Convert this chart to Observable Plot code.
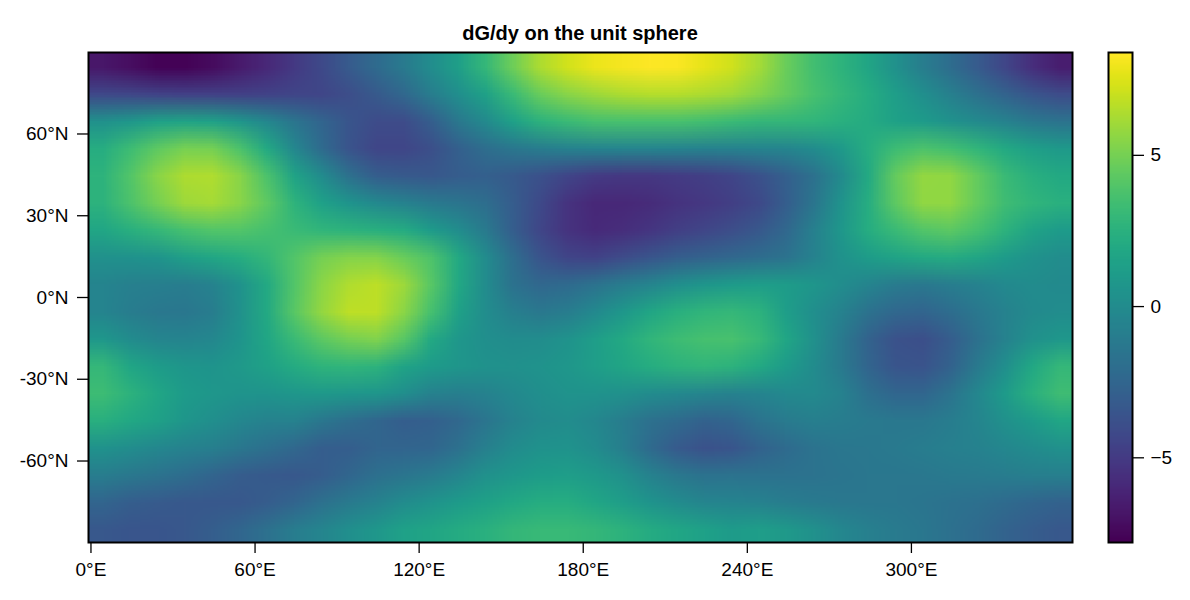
<!DOCTYPE html>
<html><head><meta charset="utf-8">
<script src="https://cdn.jsdelivr.net/npm/d3@7"></script>
<script src="https://cdn.jsdelivr.net/npm/@observablehq/plot@0.6"></script>
<style>
html,body{margin:0;padding:0;background:#fff;width:1190px;height:600px;overflow:hidden;position:relative}
#c svg{position:absolute;left:0;top:0;background:transparent}
#title{position:absolute;left:88px;width:984px;top:21.5px;text-align:center;font:bold 20px "Liberation Sans",sans-serif;color:#000}
</style></head><body>
<div id="title">dG/dy on the unit sphere</div>
<div id="c"></div>
<script>
const nLon = 36, nLat = 18;
const lat85  = [-6.8,-7.2,-7.7,-7.7,-7.3,-6.7,-6,-5.1,-4.2,-3.2,-2.2,-1.2,0.1,1.3,3,4.8,6.4,7.3,7.9,8.2,8.4,8.3,7.8,7.2,6.2,4.7,3.5,2.7,1.7,0.3,-1,-2.1,-3.2,-4.4,-5.7,-6.5];
const lat75  = [-4.3,-4.4,-4.6,-4.7,-4.7,-4.7,-4.6,-4.5,-4.4,-4,-3.3,-2.4,-1,0.2,1.5,3.2,4.7,5.5,6,6.4,6.6,6.6,6.4,6.1,5.4,4.6,3.7,3,2.2,1.2,0.2,-0.8,-1.8,-2.7,-3.5,-4.1];
const lat65  = [0.3,0.8,1.4,1.6,1.4,0.7,-0.3,-1.5,-2.6,-3.5,-4.1,-4.1,-3,-1.3,-0.1,1.4,2.6,3.2,3.6,3.7,3.7,3.7,3.5,3.2,2.9,2.9,2.8,2.5,2.1,1.5,1,0.4,-0.1,-0.7,-1.3,-1.6];
const lat55  = [2.3,3.3,4.4,5.1,5,3.8,2,-0.3,-2.2,-3.6,-4.4,-4.4,-3.9,-2.9,-2,-1.4,-1,-0.7,-0.5,-0.4,-0.4,-0.5,-0.6,-0.6,-0.5,-0.4,0,0.9,2.3,3.3,3.8,3.5,2.8,2,1.3,0.9];
const lat45  = [2.7,4,5.5,6.4,6.5,5.5,3.8,1.6,0,-1.8,-3,-3.3,-3.4,-3.1,-2.9,-3.3,-3.8,-4.5,-5,-5.2,-5.2,-5,-4.8,-4.5,-3.8,-2.9,-1.8,-0.1,2,4.6,5.8,5.7,4.5,3.2,2.4,2];
const lat35  = [2.6,3.8,5,6,6.2,5.5,4.4,2.7,1.4,0.6,-0.2,-0.6,-1.2,-1.5,-2,-3.1,-4.2,-5.4,-6,-6,-5.8,-5.4,-5.2,-4.8,-4.2,-3,-1.5,0.5,2.3,4.4,5.7,5.7,4.5,3.4,2.8,2.5];
const lat25  = [1.8,2.4,3,3.6,4,4,3.6,3.2,2.8,2.6,2.4,2.1,1,0.1,-1.2,-3,-4.4,-5.4,-5.9,-5.7,-5.3,-4.8,-4.4,-4,-3.4,-2.4,-0.8,0.8,2.2,3.2,4,4.3,3.6,2.6,1.6,1];
const lat15  = [0.3,0.4,0.6,1.3,1.8,2.2,2.9,4,5,5.4,5.4,4.7,3.9,2,0,-2,-3.6,-4.5,-4.6,-4.1,-3.5,-3,-2.7,-2.4,-2.1,-1.6,-0.7,0.4,1.1,1.6,2,2.1,1.7,1,0.4,0.1];
const lat5   = [-0.5,-0.8,-0.9,-1,-0.7,0.4,2,4,5.6,6.5,6.8,6,4.2,1.9,0,-1.7,-2.4,-2.2,-1.6,-1,-0.4,0.2,0.7,1,1.2,1.1,0.7,0.1,-0.5,-1.1,-1.3,-1,-0.6,-0.2,0,-0.1];
const latS5  = [-0.5,-1,-1.3,-1.4,-1,0.3,2,4.2,5.8,6.8,6.8,5.6,3.6,1.5,0.1,-0.9,-1.3,-1,-0.2,0.8,1.7,2.4,2.8,3,2.6,1.2,0.2,-0.7,-1.7,-2.4,-2.6,-2.1,-1.3,-0.6,-0.1,0.1];
const latS15 = [0.8,0,-0.4,-0.5,-0.3,0.6,1.8,3.2,4.3,5,5.3,4.2,2,0.8,0.2,0,0.1,0.5,1.2,2,2.8,3.3,3.6,3.7,3.1,1.8,0.3,-1.2,-2.7,-3.7,-3.9,-3.1,-1.8,-0.6,0.3,0.8];
const latS25 = [3,1.8,1.1,0.7,0.6,0.9,1.5,2.1,2.7,2.8,2.6,1.6,1,0.7,0.4,0.3,0.5,0.8,1.2,1.7,2.2,2.6,2.8,2.6,2,1,0,-1.2,-2.6,-3.5,-3.6,-2.8,-1.2,0.2,1.9,3];
const latS35 = [3.3,2.6,1.8,1,0.8,0.6,0.6,0.8,0.9,0.8,0.7,0.2,-0.6,-0.9,-0.7,-0.2,0.2,0.5,0.5,0.3,0,-0.2,-0.4,-0.6,-0.5,-0.2,-0.1,-0.7,-1.9,-2.5,-2.5,-1.6,-0.3,1,2.5,3.4];
const latS45 = [2.4,1.9,1.5,0.7,0.2,-0.3,-0.6,-0.7,-1.4,-2,-2.5,-3,-2.9,-2.4,-1.5,-0.7,-0.1,0.1,-0.3,-1,-1.8,-2.2,-2.8,-2.5,-1.6,-1.1,-0.9,-1,-1.2,-1.3,-1.3,-1,-0.4,0.3,1,1.8];
const latS55 = [0.4,0.1,-0.3,-0.6,-0.9,-1.4,-1.9,-2.4,-3,-3,-2.6,-2.6,-2.5,-1.8,-0.8,0,0.4,0.5,0,-0.9,-2.2,-3.2,-3.7,-3.5,-2.8,-2.2,-1.6,-1.4,-1.3,-1.2,-1,-0.8,-0.6,-0.3,0,0.3];
const latS65 = [-1,-1.3,-1.6,-2.1,-2.6,-3.1,-3.3,-3.4,-3.1,-2.5,-1.9,-1.5,-1.1,-0.4,0.3,0.8,1.1,1.2,0.9,0.3,-0.6,-1.3,-1.7,-1.6,-1.7,-1.7,-1.6,-1.5,-1.4,-1.4,-1.3,-1.2,-1.1,-1,-0.9,-0.9];
const latS75 = [-2.6,-3,-3.2,-3.4,-3.4,-3.4,-3.1,-2.6,-1.8,-1.2,-0.6,0,0.5,1,1.5,1.9,2.2,2.2,1.8,1.2,0.6,0,-0.4,-0.5,-0.7,-1,-1.2,-1.3,-1.4,-1.4,-1.5,-1.7,-1.9,-2.2,-2.5,-2.8];
const latS85 = [-3.4,-3.5,-3.5,-3.4,-3,-2.5,-1.8,-1,-0.4,0.2,0.8,1.4,1.7,2.1,2.5,2.9,3.1,3.1,2.9,2.6,2.1,1.8,1.4,1,1.2,0.9,0.3,-0.3,-0.8,-1.1,-1.4,-1.8,-2.2,-2.7,-3.1,-3.4];
const values = [lat85,lat75,lat65,lat55,lat45,lat35,lat25,lat15,lat5,latS5,latS15,latS25,latS35,latS45,latS55,latS65,latS75,latS85].flat();
const lonTicks = [0,60,120,180,240,300];
const latTicks = [60,30,0,-30,-60];
const cbTicks = [-5,0,5];
const colorDomain = [-7.8,8.4];
const font = '"Liberation Sans",sans-serif';
const base = {width:1190,height:600,marginTop:52,marginBottom:58,style:{fontFamily:font,fontSize:"19px",color:"#000",background:"transparent"},
  color:{type:"linear",scheme:"viridis",domain:colorDomain}};
const main = Plot.plot({...base,marginLeft:88,marginRight:118,
  x:{domain:[-0.9,358.9],axis:null},
  y:{domain:[-89.9,89.9],axis:null},
  marks:[
    Plot.raster(values,{width:nLon,height:nLat,x1:-0.9,x2:358.9,y1:89.9,y2:-89.9}),
    Plot.frame({stroke:"#000",strokeWidth:2}),
    Plot.axisX({ticks:lonTicks,tickFormat:d=>d+"°E",tickSize:11,tickPadding:9,anchor:"bottom",label:null,strokeWidth:1.3}),
    Plot.axisY({ticks:latTicks,tickFormat:d=>d+"°N",tickSize:11,tickPadding:9,anchor:"left",label:null,strokeWidth:1.3})
  ]});
const ramp = d3.ticks(colorDomain[0],colorDomain[1],200).reverse();
const bar = Plot.plot({...base,marginLeft:1108,marginRight:58,
  x:{domain:[0,1],axis:null},
  y:{domain:colorDomain,axis:null},
  marks:[
    Plot.raster(ramp,{width:1,height:ramp.length,x1:0,x2:1,y1:colorDomain[1],y2:colorDomain[0]}),
    Plot.frame({stroke:"#000",strokeWidth:2}),
    Plot.axisY({ticks:cbTicks,tickFormat:d=>d<0?"\u2212"+(-d):""+d,tickSize:11,tickPadding:7,anchor:"right",label:null,strokeWidth:1.3})
  ]});
document.getElementById("c").append(main,bar);
</script>
</body></html>
